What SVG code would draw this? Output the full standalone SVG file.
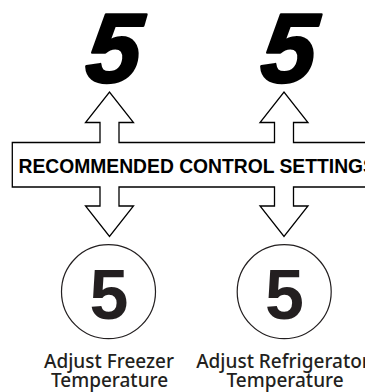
<svg xmlns="http://www.w3.org/2000/svg" width="365" height="392" viewBox="0 0 365 392">
<style>
.big{font-family:"Liberation Sans",Arial,sans-serif;font-weight:bold;font-style:italic;font-size:98px;fill:#000;stroke:#000;stroke-width:2.5;stroke-linejoin:round;text-anchor:middle}
.title{font-family:"Liberation Sans",Arial,sans-serif;font-weight:bold;font-size:19.3px;fill:#000}
.dial{fill:#fff;stroke:#231f20;stroke-width:1.2}
.num{font-family:"Liberation Sans",Arial,sans-serif;font-weight:bold;font-size:70px;fill:#231f20;text-anchor:middle}
.lbl{font-family:"Noto Sans","Open Sans",sans-serif;font-weight:500;font-size:19px;fill:#231f20;text-anchor:middle}
.outline{fill:#fff;stroke:#000;stroke-width:1.3;stroke-linejoin:miter}
</style>
<rect width="365" height="392" fill="#fff"/>
<g id="setting-top-left"><text class="big" transform="translate(111,82) skewX(-6)" x="0" y="0">5</text></g>
<g id="setting-top-right"><text class="big" transform="translate(286,82) skewX(-6)" x="0" y="0">5</text></g>
<g id="connectors">
<path class="outline" d="M12.3,142.5 H100 V122.5 H85.5 L109.5,92 L133.5,122.5 H119 V142.5 H274.5 V122.5 H260 L284,92 L308,122.5 H293.5 V142.5 H372 V187 H293.5 V206 H308 L284,236.5 L260,206 H274.5 V187 H119 V206 H133.5 L109.5,236.5 L85.5,206 H100 V187 H12.3 Z"/>
</g>
<g id="banner"><text class="title" x="18.5" y="172.5">RECOMMENDED CONTROL SETTINGS</text></g>
<g id="freezer">
<circle class="dial" cx="108.5" cy="291.7" r="47"/>
<text class="num" x="109" y="319">5</text>
<text class="lbl" x="109" y="368.3">Adjust Freezer</text>
<text class="lbl" x="109.5" y="387">Temperature</text>
</g>
<g id="refrigerator">
<circle class="dial" cx="284.2" cy="291.7" r="47"/>
<text class="num" x="284.5" y="319">5</text>
<text class="lbl" x="283" y="368.3">Adjust Refrigerator</text>
<text class="lbl" x="285" y="387">Temperature</text>
</g>
</svg>
